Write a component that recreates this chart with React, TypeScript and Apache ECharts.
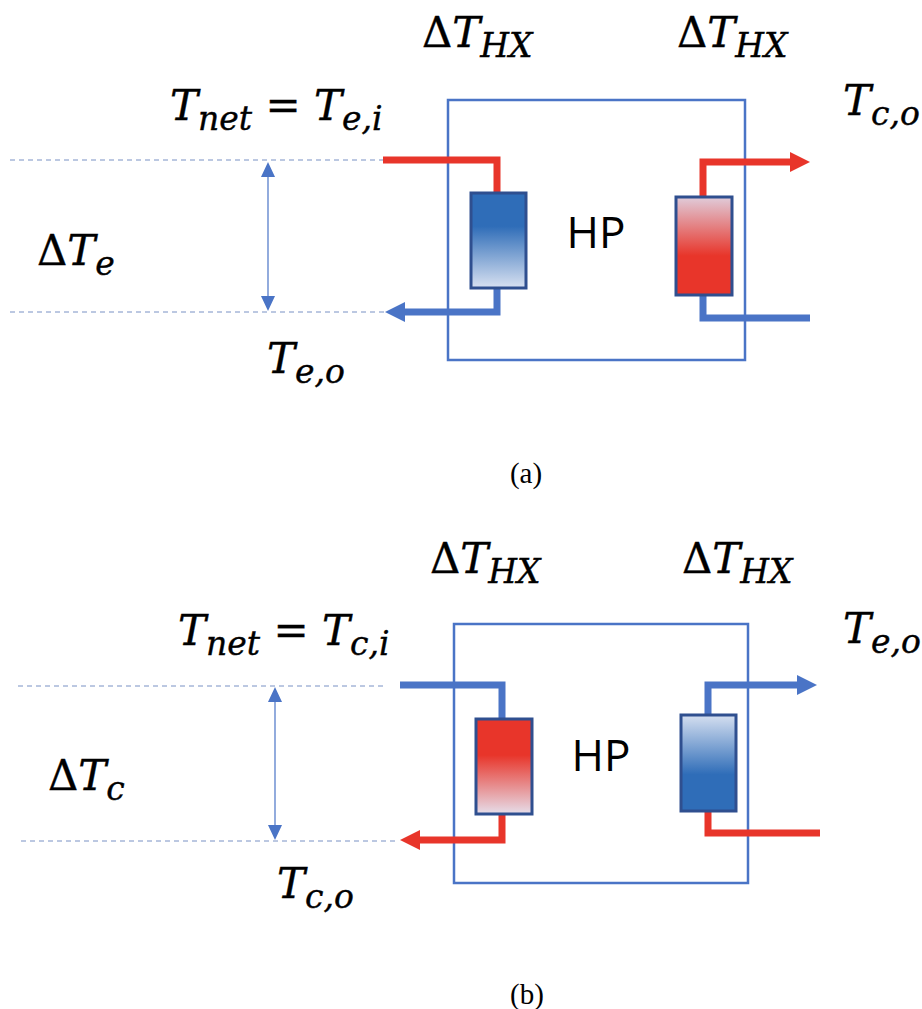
import React, { useEffect, useRef } from 'react';
import * as echarts from 'echarts';

const W = 922;
const H = 1009;

// ---- text content ----
const panelCaptions = ['(a)', '(b)'];
const hpLabel = 'HP';
// tokens: [text, kind]  kind: 'up' upright, 'it' italic, 'sub' italic subscript
const hxLabel = [['Δ', 'up'], ['T', 'it'], ['HX', 'sub']];
const netLabelA = [['T', 'it'], ['net', 'sub'], [' = ', 'up'], ['T', 'it'], ['e,i', 'sub']];
const netLabelB = [['T', 'it'], ['net', 'sub'], [' = ', 'up'], ['T', 'it'], ['c,i', 'sub']];
const deltaLabelA = [['Δ', 'up'], ['T', 'it'], ['e', 'sub']];
const deltaLabelB = [['Δ', 'up'], ['T', 'it'], ['c', 'sub']];
const outLeftA = [['T', 'it'], ['e,o', 'sub']];
const outRightA = [['T', 'it'], ['c,o', 'sub']];
const outLeftB = [['T', 'it'], ['c,o', 'sub']];
const outRightB = [['T', 'it'], ['e,o', 'sub']];

// ---- colours ----
const RED = '#E8352A';
const BLUE = '#4A74C6';
const BOX = '#4A74C6';
const HXBORDER = '#2F4F8F';
const DASH = '#7891C4';
const DARKBLUE = '#2F6DB8';

const MATH_FONT = '"DejaVu Serif"';
const MAIN = 42;
const SUB = 33;
const CENTRAL = 0.346; // central baseline offset of DejaVu (em)

let measureCtx: CanvasRenderingContext2D | null = null;
function measure(text: string, font: string) {
  if (!measureCtx) measureCtx = document.createElement('canvas').getContext('2d');
  measureCtx!.font = font;
  return measureCtx!.measureText(text).width;
}

function mathLabel(tokens: string[][], x0: number, baseline: number, main = MAIN, sub = SUB) {
  const els: any[] = [];
  let x = x0;
  tokens.forEach(([t, kind]) => {
    const size = kind === 'sub' ? sub : main;
    const fstyle = kind === 'up' ? 'normal' : 'italic';
    const font = `${fstyle} ${size}px ${MATH_FONT}`;
    const by = kind === 'sub' ? baseline + 10 : baseline;
    els.push({
      type: 'text',
      x,
      y: by - CENTRAL * size,
      style: {
        text: t,
        fontFamily: MATH_FONT,
        fontSize: size,
        fontStyle: fstyle,
        fill: '#000',
        stroke: '#000',
        lineWidth: 0.4,
        align: 'left',
        verticalAlign: 'middle',
      },
    });
    x += measure(t, font);
  });
  return els;
}

function pipe(points: number[][], color: string) {
  return {
    type: 'polyline',
    shape: { points },
    style: { stroke: color, lineWidth: 7, fill: null, lineJoin: 'miter', lineCap: 'butt' },
  };
}

function arrowHead(tipX: number, y: number, dir: number, color: string) {
  const L = 20, Wd = 10;
  return {
    type: 'polygon',
    shape: { points: [[tipX, y], [tipX - dir * L, y - Wd], [tipX - dir * L, y + Wd]] },
    style: { fill: color },
  };
}

function hxRect(x: number, y: number, w: number, h: number, stops: any[]) {
  return {
    type: 'rect',
    shape: { x, y, width: w, height: h },
    style: {
      fill: new echarts.graphic.LinearGradient(0, 0, 0, 1, stops),
      stroke: HXBORDER,
      lineWidth: 3,
    },
  };
}

function dashed(x1: number, x2: number, y: number) {
  return {
    type: 'line',
    shape: { x1, y1: y, x2, y2: y },
    style: { stroke: DASH, lineWidth: 1, lineDash: [5, 4] },
  };
}

function dblArrow(x: number, y1: number, y2: number) {
  const hw = 7, hl = 15;
  return [
    { type: 'line', shape: { x1: x, y1: y1 + hl, x2: x, y2: y2 - hl }, style: { stroke: BOX, lineWidth: 1.2 } },
    { type: 'polygon', shape: { points: [[x, y1], [x - hw, y1 + hl], [x + hw, y1 + hl]] }, style: { fill: BOX } },
    { type: 'polygon', shape: { points: [[x, y2], [x - hw, y2 - hl], [x + hw, y2 - hl]] }, style: { fill: BOX } },
  ];
}

function hpText(cx: number, cy: number) {
  return {
    type: 'text',
    x: cx,
    y: cy,
    style: {
      text: hpLabel,
      fontFamily: '"Open Sans"',
      fontSize: 44,
      fill: '#000',
      align: 'center',
      verticalAlign: 'middle',
    },
  };
}

function caption(text: string, cx: number, cy: number) {
  return {
    type: 'text',
    x: cx,
    y: cy,
    style: {
      text,
      fontFamily: '"Liberation Serif"',
      fontSize: 29,
      fill: '#000',
      align: 'center',
      verticalAlign: 'middle',
    },
  };
}

const blueDarkTop = [
  { offset: 0, color: DARKBLUE },
  { offset: 0.35, color: DARKBLUE },
  { offset: 1, color: '#D8E1F1' },
];
const blueDarkBottom = [
  { offset: 0, color: '#D5DFF0' },
  { offset: 0.62, color: DARKBLUE },
  { offset: 1, color: DARKBLUE },
];
const redBottom = [
  { offset: 0, color: '#E0CCDA' },
  { offset: 0.6, color: RED },
  { offset: 1, color: RED },
];
const redTop = [
  { offset: 0, color: RED },
  { offset: 0.38, color: RED },
  { offset: 1, color: '#E6DEEA' },
];

function buildElements() {
  const els: any[] = [];
  // ---------- panel (a) ----------
  els.push(dashed(10, 383, 160), dashed(10, 385, 312));
  els.push(...dblArrow(268, 162, 311));
  els.push({ type: 'rect', shape: { x: 448, y: 100, width: 297, height: 260 }, style: { fill: null, stroke: BOX, lineWidth: 2.5 } });
  els.push(pipe([[383, 160], [497, 160], [497, 193]], RED));
  els.push(pipe([[497, 288], [497, 312], [402, 312]], BLUE), arrowHead(385, 312, -1, BLUE));
  els.push(pipe([[703, 197], [703, 162], [792, 162]], RED), arrowHead(810, 162, 1, RED));
  els.push(pipe([[810, 318], [703, 318], [703, 295]], BLUE));
  els.push(hxRect(471, 193, 55, 95, blueDarkTop));
  els.push(hxRect(676, 197, 56, 98, redBottom));
  els.push(hpText(596, 231));
  els.push(...mathLabel(hxLabel, 422, 47));
  els.push(...mathLabel(hxLabel, 677, 47));
  els.push(...mathLabel(netLabelA, 170, 120));
  els.push(...mathLabel(outRightA, 843, 115));
  els.push(...mathLabel(deltaLabelA, 37, 265));
  els.push(...mathLabel(outLeftA, 267, 373));
  els.push(caption(panelCaptions[0], 526, 473));

  // ---------- panel (b) ----------
  els.push(dashed(18, 387, 686), dashed(21, 398, 841));
  els.push(...dblArrow(275, 687, 840));
  els.push({ type: 'rect', shape: { x: 454, y: 624, width: 294, height: 259 }, style: { fill: null, stroke: BOX, lineWidth: 2.5 } });
  els.push(pipe([[400, 685], [502, 685], [502, 719]], BLUE));
  els.push(pipe([[502, 814], [502, 840], [417, 840]], RED), arrowHead(400, 840, -1, RED));
  els.push(pipe([[708, 715], [708, 685], [799, 685]], BLUE), arrowHead(817, 685, 1, BLUE));
  els.push(pipe([[820, 833], [708, 833], [708, 811]], RED));
  els.push(hxRect(476, 719, 56, 95, redTop));
  els.push(hxRect(681, 715, 55, 96, blueDarkBottom));
  els.push(hpText(601, 754));
  els.push(...mathLabel(hxLabel, 430, 573));
  els.push(...mathLabel(hxLabel, 682, 573));
  els.push(...mathLabel(netLabelB, 178, 645));
  els.push(...mathLabel(outRightB, 843, 643));
  els.push(...mathLabel(deltaLabelB, 48, 790));
  els.push(...mathLabel(outLeftB, 277, 898));
  els.push(caption(panelCaptions[1], 527, 994));
  return els;
}

export default function App() {
  const ref = useRef<HTMLDivElement>(null);
  useEffect(() => {
    if (!ref.current) return;
    const chart = echarts.init(ref.current, null, { renderer: 'svg', width: W, height: H });
    chart.setOption({
      animation: false,
      backgroundColor: '#ffffff',
      graphic: { elements: buildElements() },
    });
    return () => chart.dispose();
  }, []);
  return (
    <div
      ref={ref}
      style={{ position: 'absolute', left: 0, top: 0, width: W, height: H, background: '#fff' }}
    />
  );
}
